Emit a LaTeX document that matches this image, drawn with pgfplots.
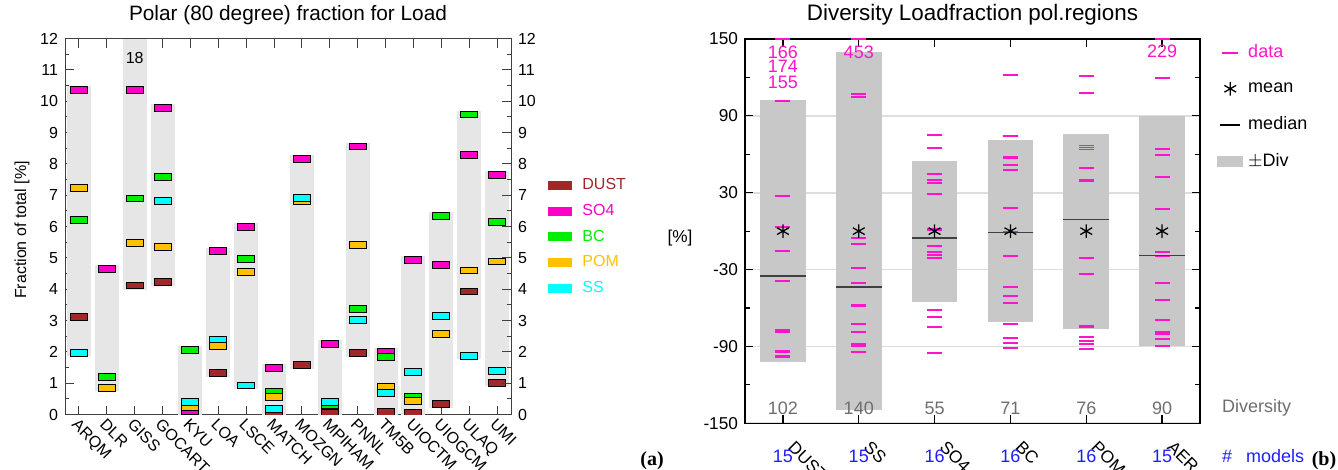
\documentclass[border=0pt]{standalone}
\usepackage{fontspec}
\setmainfont{Liberation Sans}
\newfontfamily\serifbf{Liberation Serif}
\usepackage{pgfplots}
\usepackage{pgfplotstable}
\pgfplotsset{compat=1.18}

\definecolor{cdust}{RGB}{160,40,40}
\definecolor{cso4}{RGB}{255,0,200}
\definecolor{cbc}{RGB}{0,238,0}
\definecolor{cpom}{RGB}{255,192,0}
\definecolor{css}{RGB}{0,255,255}
\definecolor{bara}{RGB}{230,230,230}
\definecolor{barb}{RGB}{200,200,200}
\definecolor{cdata}{RGB}{255,20,200}
\definecolor{cblue}{RGB}{30,30,255}
\definecolor{cdiv}{RGB}{110,110,110}
\definecolor{cgrid}{RGB}{222,222,222}

\pgfdeclareplotmark{fbox}{%
  \pgfpathrectangle{\pgfqpoint{-4.25pt}{-1.7pt}}{\pgfqpoint{8.5pt}{3.4pt}}%
  \pgfusepathqfillstroke}

\newcommand{\fa}{\fontsize{8}{9.6}\selectfont}
\newcommand{\fb}{\fontsize{8.6}{10}\selectfont}
\newcommand{\fc}{\fontsize{9}{10.8}\selectfont}

% panel (a): grey range bars per model
\pgfplotstableread{
x lo hi
0 1.86 10.48
1 0.74 4.76
2 3.99 12.0
3 4.11 9.91
4 0.0 2.18
5 1.20 5.33
6 0.81 6.12
7 0.0 1.62
8 1.47 8.27
9 0.0 2.38
10 1.85 8.68
11 0.0 2.13
12 0.0 5.05
13 0.22 6.46
14 1.76 9.70
15 0.90 7.76
}\barsA

% panel (b): diversity, mean, median
\pgfplotstableread{
x div mean median
1 102 0 -35.0
2 140 0 -43.6
3 55 0 -5.3
4 71 0 -1.0
5 76 0 9.0
6 90 0 -19.0
}\statsB

% panel (b): individual model values (off-scale values shown at 150)
\pgfplotstableread{
x y
1 150
1 150
1 150
1 101.8
1 27.4
1 3.0
1 -15.5
1 -35.0
1 -39.2
1 -76.9
1 -78.7
1 -93.6
1 -94.6
1 -97.7
1 -98.2
2 150
2 107.1
2 105.0
2 -5.6
2 -10.0
2 -28.5
2 -40.7
2 -43.6
2 -57.5
2 -58.8
2 -72.2
2 -79.0
2 -88.1
2 -89.9
2 -94.6
3 75.1
3 65.2
3 44.6
3 40.2
3 37.6
3 29.0
3 1.4
3 0.5
3 -11.6
3 -16.5
3 -18.9
3 -21.2
3 -61.5
3 -66.8
3 -75.0
3 -94.9
4 122.1
4 74.0
4 57.7
4 57.0
4 51.4
4 47.7
4 18.3
4 -0.5
4 -19.4
4 -43.3
4 -50.9
4 -56.3
4 -72.2
4 -83.2
4 -87.3
4 -91.5
5 120.9
5 107.6
5 66.9
5 65.3
5 63.8
5 49.5
5 40.2
5 39.4
5 -21.2
5 -33.5
5 -74.0
5 -75.0
5 -82.6
5 -85.7
5 -88.3
5 -91.8
6 150
6 119.3
6 63.9
6 59.7
6 42.1
6 17.1
6 -16.5
6 -19.5
6 -40.5
6 -53.5
6 -69.1
6 -78.5
6 -80.0
6 -84.2
6 -89.7
}\dataB

\begin{document}
\begin{tikzpicture}
\useasboundingbox (0,0) rectangle (669pt,235pt);

%================ panel (a)
\begin{axis}[
  at={(32.5pt,27.7pt)}, anchor=south west,
  scale only axis, width=223pt, height=188pt,
  xmin=-0.5, xmax=15.5, ymin=0, ymax=12,
  xtick={0,...,15},
  xticklabels={ARQM,DLR,GISS,GOCART,KYU,LOA,LSCE,MATCH,MOZGN,MPIHAM,PNNL,TM5B,UIOCTM,UIOGCM,ULAQ,UMI},
  xticklabel style={rotate=-45, anchor=north west, font=\fa, inner sep=1pt},
  ytick={0,...,12}, minor ytick={0.5,1.5,...,11.5},
  yticklabel style={font=\fa},
  tick align=inside, major tick length=4.5pt, minor tick length=2pt,
  axis line style={black!75, line width=0.5pt},
  tick style={black!75, line width=0.5pt},
  /pgf/number format/assume math mode=true,
  title={Polar (80 degree) fraction for Load},
  title style={font=\fontsize{10.4}{12}\selectfont, at={(0.5,1)}, anchor=center, yshift=5.8pt},
  ylabel={Fraction of total [\%]},
  ylabel style={font=\fa, at={(axis description cs:-0.0964,0.491)}, anchor=center},
  clip mode=individual, clip marker paths=true,
  legend style={at={(axis description cs:1.083,0.629)}, anchor=north west,
    draw=none, fill=none, inner sep=0pt, row sep=5.75pt, font=\fa,
    nodes={inner sep=0pt}},
  legend cell align=left,
]
\addlegendimage{legend image code/.code={\fill[cdust, draw=none] (0pt,-2.25pt) rectangle (12pt,2.25pt); \path[draw=none, fill=none] (0pt,0pt) -- (17pt,0pt);}}
\addlegendentry{\textcolor{cdust}{DUST}}
\addlegendimage{legend image code/.code={\fill[cso4, draw=none] (0pt,-2.25pt) rectangle (12pt,2.25pt); \path[draw=none, fill=none] (0pt,0pt) -- (17pt,0pt);}}
\addlegendentry{\textcolor{cso4}{SO4}}
\addlegendimage{legend image code/.code={\fill[cbc, draw=none] (0pt,-2.25pt) rectangle (12pt,2.25pt); \path[draw=none, fill=none] (0pt,0pt) -- (17pt,0pt);}}
\addlegendentry{\textcolor{cbc}{BC}}
\addlegendimage{legend image code/.code={\fill[cpom, draw=none] (0pt,-2.25pt) rectangle (12pt,2.25pt); \path[draw=none, fill=none] (0pt,0pt) -- (17pt,0pt);}}
\addlegendentry{\textcolor{cpom}{POM}}
\addlegendimage{legend image code/.code={\fill[css, draw=none] (0pt,-2.25pt) rectangle (12pt,2.25pt); \path[draw=none, fill=none] (0pt,0pt) -- (17pt,0pt);}}
\addlegendentry{\textcolor{css}{SS}}

\addplot[forget plot, only marks, mark=none, color=bara,
  error bars/.cd, y dir=both, y explicit, error mark=none,
  error bar style={line width=12pt, color=bara}]
  table[x=x, y expr=(\thisrow{hi}+\thisrow{lo})/2, y error expr=(\thisrow{hi}-\thisrow{lo})/2] {\barsA};

\addplot[forget plot, only marks, mark=fbox, mark options={draw=black, fill=cdust, line width=0.45pt}]
coordinates {(0,3.11) (2,4.12) (3,4.23) (5,1.32) (7,0.04) (8,1.59) (9,0.06) (10,1.97) (11,0.09) (12,0.06) (13,0.34) (14,3.93) (15,1.02)};
\addplot[forget plot, only marks, mark=fbox, mark options={draw=black, fill=cso4, line width=0.45pt}]
coordinates {(0,10.36) (1,4.64) (2,10.36) (3,9.79) (4,0.12) (5,5.21) (6,6.00) (7,1.50) (8,8.15) (9,2.26) (10,8.56) (11,2.01) (12,4.93) (13,4.78) (14,8.28) (15,7.64)};
\addplot[forget plot, only marks, mark=fbox, mark options={draw=black, fill=cbc, line width=0.45pt}]
coordinates {(0,6.21) (1,1.19) (2,6.90) (3,7.58) (4,2.06) (6,4.96) (7,0.72) (9,0.30) (10,3.38) (11,1.84) (12,0.57) (13,6.34) (14,9.58) (15,6.15)};
\addplot[forget plot, only marks, mark=fbox, mark options={draw=black, fill=cpom, line width=0.45pt}]
coordinates {(0,7.24) (1,0.86) (2,5.48) (3,5.34) (4,0.25) (5,2.19) (6,4.56) (7,0.57) (8,6.80) (10,5.42) (11,0.87) (12,0.43) (13,2.58) (14,4.60) (15,4.89)};
\addplot[forget plot, only marks, mark=fbox, mark options={draw=black, fill=css, line width=0.45pt}]
coordinates {(0,1.98) (2,12.04) (3,6.82) (4,0.40) (5,2.40) (6,0.93) (7,0.19) (8,6.92) (9,0.40) (10,3.01) (11,0.70) (12,1.37) (13,3.15) (14,1.88) (15,1.39)};

\node[font=\fa] at (axis cs:2,11.38) {18};
\end{axis}

% right-hand tick labels of panel (a)
\begin{axis}[
  at={(32.5pt,27.7pt)}, anchor=south west,
  scale only axis, width=223pt, height=188pt,
  xmin=-0.5, xmax=15.5, ymin=0, ymax=12,
  axis x line=none, axis y line*=right,
  ytick={0,...,12}, minor ytick={0.5,1.5,...,11.5},
  yticklabel style={font=\fa},
  tick align=inside, major tick length=4.5pt, minor tick length=2pt,
  axis line style={black!75, line width=0.5pt},
  tick style={black!75, line width=0.5pt},
  /pgf/number format/assume math mode=true,
]
\addplot[draw=none, forget plot] coordinates {(0,0)};
\end{axis}

%================ panel (b)
\begin{axis}[
  at={(372.5pt,23.35pt)}, anchor=south west,
  scale only axis, width=227.5pt, height=192.15pt,
  xmin=0.5, xmax=6.5, ymin=-150, ymax=150,
  xtick={1,...,6}, xticklabels={DUST,SS,SO4,BC,POM,AER},
  xticklabel style={rotate=-45, anchor=north west, font=\fb, xshift=7pt, yshift=2pt},
  ytick={-150,-90,...,150}, minor ytick={-120,-60,...,120},
  yticklabel style={font=\fb},
  ymajorgrids, grid style={cgrid, line width=0.8pt},
  tick align=inside, major tick length=4pt, minor tick length=2.5pt,
  axis line style={black, line width=0.7pt},
  tick style={black, line width=0.6pt},
  /pgf/number format/assume math mode=true,
  title={Diversity Loadfraction pol.regions},
  title style={font=\fontsize{11.2}{13}\selectfont, at={(0.5,1)}, anchor=center, yshift=6pt},
  ylabel={[\%]},
  ylabel style={font=\fb, at={(axis description cs:-0.143,0.482)}, anchor=center, rotate=-90},
  clip mode=individual, clip marker paths=true,
  legend style={at={(axis description cs:1.037,0.986)}, anchor=north west,
    draw=none, fill=none, inner sep=0pt, row sep=10.25pt, font=\fc,
    nodes={inner sep=0pt}},
  legend cell align=left,
]
\addlegendimage{legend image code/.code={\draw[cdata, line width=0.9pt] (2.5pt,0pt) -- (10.5pt,0pt); \path[draw=none, fill=none] (0pt,0pt) -- (15.5pt,0pt);}}
\addlegendentry{\textcolor{cdata}{data}}
\addlegendimage{legend image code/.code={\draw[black, line width=0.65pt] (6.5pt,0pt) ++(90:3.4pt) -- ++(270:6.8pt) (6.5pt,0pt) ++(30:3.4pt) -- ++(210:6.8pt) (6.5pt,0pt) ++(150:3.4pt) -- ++(330:6.8pt); \path[draw=none, fill=none] (0pt,0pt) -- (15.5pt,0pt);}}
\addlegendentry{mean}
\addlegendimage{legend image code/.code={\draw[black, line width=0.8pt] (1.5pt,0pt) -- (11.5pt,0pt); \path[draw=none, fill=none] (0pt,0pt) -- (15.5pt,0pt);}}
\addlegendentry{median}
\addlegendimage{legend image code/.code={\fill[barb, draw=none] (0pt,-2.65pt) rectangle (13pt,2.65pt); \path[draw=none, fill=none] (0pt,0pt) -- (15.5pt,0pt);}}
\addlegendentry{$\pm$Div}

\addplot[forget plot, only marks, mark=none, color=barb,
  error bars/.cd, y dir=both, y explicit, error mark=none,
  error bar style={line width=22.85pt, color=barb}]
  table[x=x, y=mean, y error=div] {\statsB};

\addplot[forget plot, only marks, mark=-, mark size=3.75pt, color=cdata,
  mark options={line width=0.9pt, draw=cdata}]
  table[x=x, y=y] {\dataB};

\addplot[forget plot, only marks, mark=-, mark size=11.42pt, color=black!75,
  mark options={line width=0.7pt}]
  table[x=x, y=median] {\statsB};

\addplot[forget plot, only marks, mark=asterisk, mark size=3.4pt, color=black,
  mark options={line width=0.65pt}]
  table[x=x, y=mean] {\statsB};

\node[font=\fc, text=cdiv] at (axis cs:1,-138.3) {102};
\node[font=\fc, text=cdiv] at (axis cs:2,-138.3) {140};
\node[font=\fc, text=cdiv] at (axis cs:3,-138.3) {55};
\node[font=\fc, text=cdiv] at (axis cs:4,-138.3) {71};
\node[font=\fc, text=cdiv] at (axis cs:5,-138.3) {76};
\node[font=\fc, text=cdiv] at (axis cs:6,-138.3) {90};
\node[font=\fc, text=cdiv, anchor=west] at (axis cs:6.5,-138.3) [xshift=7.5pt] {Diversity};

\node[font=\fc, text=cblue] at (axis cs:1,-150) [yshift=-16.35pt] {15};
\node[font=\fc, text=cblue] at (axis cs:2,-150) [yshift=-16.35pt] {15};
\node[font=\fc, text=cblue] at (axis cs:3,-150) [yshift=-16.35pt] {16};
\node[font=\fc, text=cblue] at (axis cs:4,-150) [yshift=-16.35pt] {16};
\node[font=\fc, text=cblue] at (axis cs:5,-150) [yshift=-16.35pt] {16};
\node[font=\fc, text=cblue] at (axis cs:6,-150) [yshift=-16.35pt] {15};
\node[font=\fc, text=cblue, anchor=west] at (axis cs:6.5,-150) [xshift=7.5pt, yshift=-16.35pt] {\#\hspace{4.5pt} models};

\node[font=\fc, text=cdata] at (axis cs:1,140) {166};
\node[font=\fc, text=cdata] at (axis cs:1,128.4) {174};
\node[font=\fc, text=cdata] at (axis cs:1,116.2) {155};
\node[font=\fc, text=cdata] at (axis cs:2,140) {453};
\node[font=\fc, text=cdata] at (axis cs:6,140.5) {229};
\end{axis}

\node[font=\serifbf\bfseries\fontsize{10}{12}\selectfont] at (326pt,4.5pt) {(a)};
\node[font=\serifbf\bfseries\fontsize{10}{12}\selectfont] at (662pt,4.5pt) {(b)};
\end{tikzpicture}
\end{document}
